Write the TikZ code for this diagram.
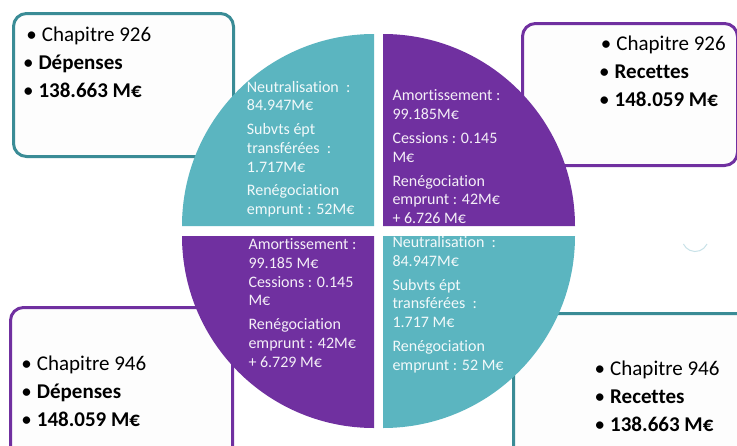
\documentclass[tikz,border=0pt]{standalone}
\usepackage{fontspec}
\setmainfont{Carlito}[Ligatures=NoCommon]
\definecolor{qteal}{RGB}{91,181,192}
\definecolor{qpurple}{RGB}{112,48,160}
\definecolor{tealline}{RGB}{58,140,150}
\definecolor{purpleline}{RGB}{112,48,160}
\definecolor{boxfill}{RGB}{253,253,253}
\definecolor{faint}{RGB}{200,226,232}
\tikzset{
  infobox/.style={draw, line width=3pt, rounded corners=13pt, fill=boxfill, anchor=north west, inner sep=0pt},
  tealbox/.style={infobox, draw=tealline},
  purplebox/.style={infobox, draw=purpleline},
  boxtext/.style={anchor=base west, inner sep=0pt, align=left, font=\fontsize{21}{28}\selectfont, text=black},
  qtext/.style={anchor=base west, inner sep=0pt, align=left, font=\fontsize{16}{18.6}\selectfont},
  qtealtext/.style={qtext, text=white!92!qteal},
  qpurpletext/.style={qtext, text=white!92!qpurple},
}
\newcommand{\bul}{\llap{\textbullet\hspace{5pt}}}
\begin{document}
\begin{tikzpicture}[x=1pt,y=-1pt]
\useasboundingbox (0,0) rectangle (737,445);
\fill[white] (0,0) rectangle (737,445);
\begin{scope}
\clip (0,0) rectangle (737,445);
% boxes
\node[tealbox, minimum width=220pt, minimum height=143pt] (b1) at (12,12) {};
\node[purplebox, minimum width=215pt, minimum height=142pt] (b2) at (521,22) {};
\node[purplebox, minimum width=222pt, minimum height=160pt] (b3) at (9,306) {};
\node[tealbox, minimum width=240pt, minimum height=150pt] (b4) at (512,312) {};
\end{scope}
% box texts (anchored at the baseline of the last line)
\node[boxtext] (t1) at (38.3,97) {\hspace{3.4pt}\bul Chapitre 926\\\bul\textbf{Dépenses}\\\bul\textbf{138.663 M€}};
\node[boxtext] (t2) at (614.5,106) {\hspace{1.7pt}\bul Chapitre 926\\\bul\textbf{Recettes}\\\bul\textbf{148.059 M€}};
\node[boxtext] (t3) at (36.7,426.3) {\bul Chapitre 946\\\bul\textbf{Dépenses}\\\bul\textbf{148.059 M€}};
\node[boxtext] (t4) at (610,431.3) {\bul Chapitre 946\\\bul\textbf{Recettes}\\\bul\textbf{138.663 M€}};
% quadrants
\fill[qteal] (374,226) -- ++(-192,0) arc[start angle=180, end angle=270, radius=192] -- cycle;
\fill[qpurple] (383,226) -- ++(0,-192) arc[start angle=270, end angle=360, radius=192] -- cycle;
\fill[qpurple] (374,236) -- ++(0,192) arc[start angle=90, end angle=180, radius=192] -- cycle;
\fill[qteal] (383,236) -- ++(192,0) arc[start angle=0, end angle=90, radius=192] -- cycle;
% quadrant texts (anchored at the baseline of the last line)
\node[qtealtext] (q1) at (246.7,214.5) {Neutralisation~ :\\84.947M€\\[5.3pt]Subvts épt\\transférées~ :\\1.717M€\\[5.3pt]Renégociation\\emprunt : 52M€};
\begin{scope}
\clip (383,226) -- ++(0,-192) arc[start angle=270, end angle=360, radius=192] -- cycle;
\node[qpurpletext] (q2) at (392.3,223.5) {Amortissement :\\99.185M€\\[5.5pt]Cessions : 0.145\\M€\\[5.5pt]Renégociation\\emprunt : 42M€\\+ 6.726 M€};
\end{scope}
\node[qpurpletext] (q3) at (248.3,367) {Amortissement :\\99.185 M€\\Cessions : 0.145\\M€\\[5.5pt]Renégociation\\emprunt : 42M€\\+ 6.729 M€};
\begin{scope}
\clip (383,236) -- ++(192,0) arc[start angle=0, end angle=90, radius=192] -- cycle;
\node[qtealtext] (q4) at (392.3,370) {Neutralisation~ :\\84.947M€\\[5.3pt]Subvts épt\\transférées~ :\\1.717 M€\\[5.3pt]Renégociation\\emprunt : 52 M€};
\end{scope}
% faint stroke
\draw[faint, line width=1pt] (707,244) arc[start angle=25, end angle=155, radius=13];
\end{tikzpicture}
\end{document}
